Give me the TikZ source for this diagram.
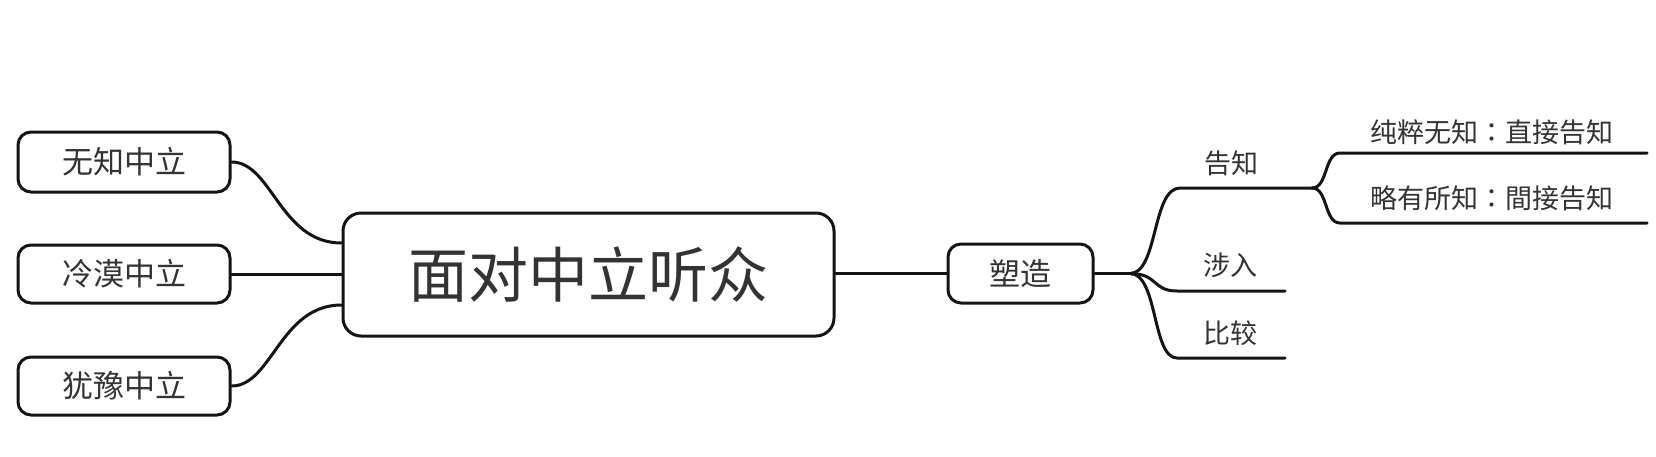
\documentclass[tikz,border=0pt]{standalone}
\usepackage{fontspec}
\setmainfont{Noto Sans CJK SC}
\newfontfamily\tcfont{Noto Sans CJK TC}
\newcommand{\mycolon}{{\tcfont ：}}
\begin{document}
\begin{tikzpicture}[x=1pt,y=-1pt,
  line width=3pt, line cap=round,
  box/.style={draw=black!92, rounded corners=13pt, inner sep=0pt, text=black!80, font=\fontsize{31}{31}\selectfont},
  lbl/.style={inner sep=0pt, text=black!80, font=\fontsize{27}{27}\selectfont},
  conn/.style={draw=black!92, line width=3pt}]
\useasboundingbox[fill=white] (0,0) rectangle (1656,456);
% boxes
\node[box, minimum width=212pt, minimum height=60pt] (n1) at (124,162) {无知中立};
\node[box, minimum width=212pt, minimum height=58pt] (n2) at (124,274) {冷漠中立};
\node[box, minimum width=212pt, minimum height=58pt] (n3) at (124,386) {犹豫中立};
\node[box, minimum width=491pt, minimum height=123pt, rounded corners=18pt, font=\fontsize{60}{60}\selectfont] (c) at (588.5,274.5) {面对中立听众};
\node[box, minimum width=145pt, minimum height=59pt] (s) at (1020.5,273.5) {塑造};
% coordinates on the centre box
\coordinate (c1) at (c.west |- 0,243);
\coordinate (c2) at (c.west |- n2.east);
\coordinate (c3) at (c.west |- 0,305);
% left connectors
\draw[conn] (n1.east) .. controls (272,162) and (280,243) .. (c1);
\draw[conn] (n2.east) -- (c2);
\draw[conn] (n3.east) .. controls (272,386) and (280,305) .. (c3);
% centre to shape
\draw[conn] (c.east |- s.west) -- (s.west);
% right branches
\coordinate (b0) at (1130,273.5);
\coordinate (g0) at (1180,188);
\coordinate (g1) at (1312,188);
\coordinate (p0) at (1177,291);
\coordinate (p1) at (1285,291);
\coordinate (q0) at (1177,358);
\coordinate (q1) at (1285,358);
\coordinate (u0) at (1340,153);
\coordinate (u1) at (1647,153);
\coordinate (v0) at (1340,223);
\coordinate (v1) at (1647,223);
\draw[conn] (s.east) -- (b0);
\draw[conn] (b0) .. controls (1158,273.5) and (1152,188) .. (g0) -- (g1);
\draw[conn] (b0) .. controls (1158,273.5) and (1152,291) .. (p0) -- (p1);
\draw[conn] (b0) .. controls (1158,273.5) and (1152,358) .. (q0) -- (q1);
\draw[conn] (g1) .. controls (1328,188) and (1324,153) .. (u0) -- (u1);
\draw[conn] (g1) .. controls (1328,188) and (1324,223) .. (v0) -- (v1);
% labels
\node[lbl] (lg) at (1231,163) {告知};
\node[lbl] (lp) at (1230,265) {涉入};
\node[lbl] (lq) at (1230,333) {比较};
\node[lbl] (lu) at (1492,132) {纯粹无知\mycolon 直接告知};
\node[lbl] (lv) at (1492,198) {略有所知\mycolon 間接告知};
\end{tikzpicture}
\end{document}
